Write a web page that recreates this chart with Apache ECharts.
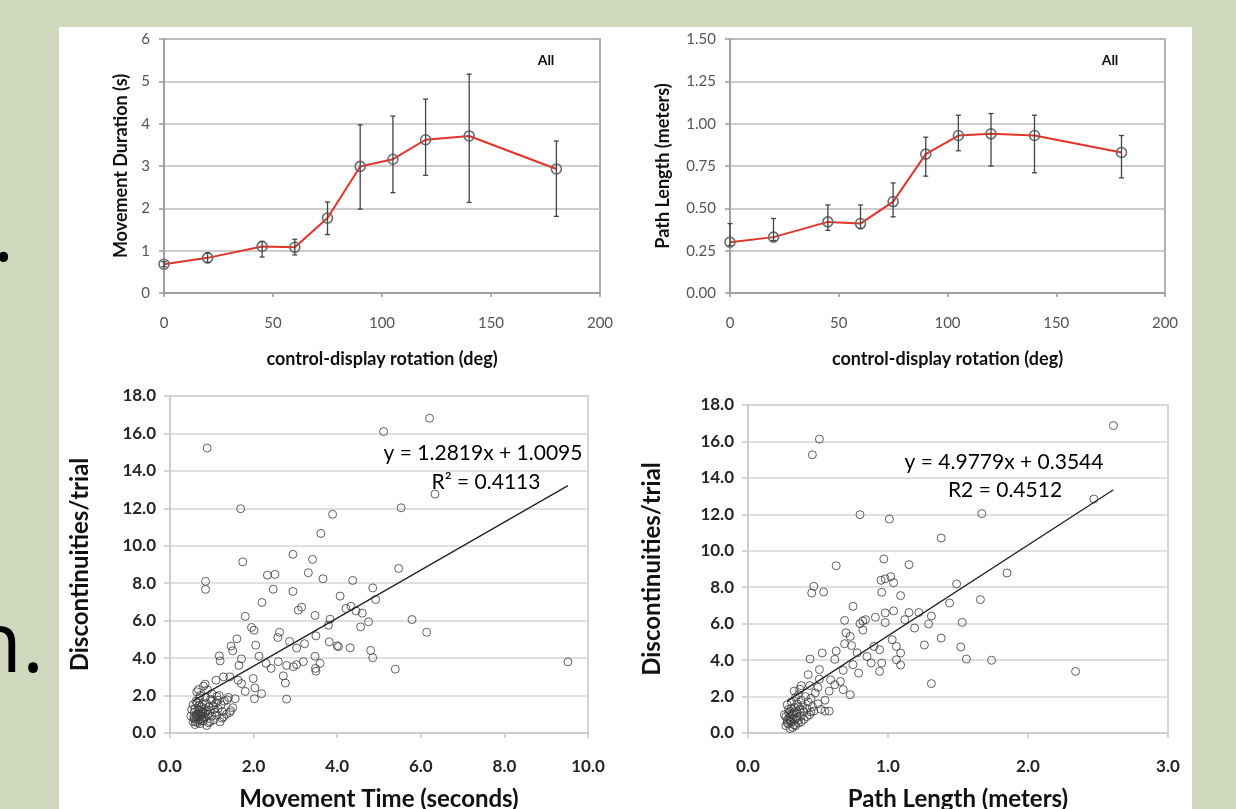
<!DOCTYPE html>
<html><head><meta charset="utf-8">
<script src="https://cdn.jsdelivr.net/npm/echarts@6/dist/echarts.min.js"></script>
<style>html,body{margin:0;padding:0;background:#cfd8bd;}#c{width:1236px;height:809px;}</style>
</head><body><div id="c"></div>
<script>
// ---------- data ----------
const rotations = [0, 20, 45, 60, 75, 90, 105, 120, 140, 180];
const durationMean = [0.68, 0.83, 1.10, 1.08, 1.77, 2.99, 3.16, 3.62, 3.71, 2.93];
const durationLow  = [0.62, 0.72, 0.85, 0.90, 1.38, 1.98, 2.37, 2.78, 2.14, 1.81];
const durationHigh = [0.74, 0.95, 1.22, 1.27, 2.15, 3.97, 4.18, 4.58, 5.17, 3.59];
const pathMean = [0.30, 0.33, 0.42, 0.41, 0.54, 0.82, 0.93, 0.94, 0.93, 0.83];
const pathLow  = [0.28, 0.31, 0.37, 0.38, 0.45, 0.69, 0.84, 0.75, 0.71, 0.68];
const pathHigh = [0.41, 0.44, 0.52, 0.52, 0.65, 0.92, 1.05, 1.06, 1.05, 0.93];

// Movement time (s) vs discontinuities/trial
const timeScatter = [
 [0.89,15.22],[1.69,11.98],[3.89,11.68],[3.61,10.66],[2.94,9.54],[3.41,9.27],[1.74,9.14],[2.33,8.43],[2.51,8.47],[3.31,8.56],
 [3.66,8.24],[4.37,8.15],[4.85,7.75],[0.85,8.10],[0.85,7.67],[2.47,7.68],[2.94,7.56],[4.07,7.31],[2.20,6.97],[3.15,6.72],
 [3.07,6.56],[3.47,6.28],[1.80,6.23],[4.21,6.65],[4.33,6.77],[4.45,6.52],[4.60,6.40],[4.75,5.94],[4.56,5.67],[4.92,7.13],
 [3.83,6.08],[3.79,5.76],[1.95,5.64],[2.01,5.49],[2.62,5.38],[2.58,5.10],[1.60,5.03],[1.46,4.64],[1.50,4.39],[2.05,4.69],
 [2.86,4.89],[3.03,4.54],[3.22,4.77],[3.49,5.19],[3.81,4.87],[4.00,4.66],[4.03,4.61],[4.31,4.55],[4.80,4.41],[4.85,4.02],
 [1.18,4.12],[1.20,3.85],[1.71,3.96],[1.65,3.61],[2.13,4.10],[2.30,3.72],[2.42,3.45],[2.59,3.81],[2.79,3.61],[2.95,3.54],
 [3.03,3.65],[3.19,3.81],[3.47,4.10],[3.48,3.45],[3.59,3.72],[3.49,3.30],[2.71,3.05],[2.76,2.67],[2.79,1.81],[1.99,2.91],
 [2.03,2.41],[2.19,2.10],[2.02,1.83],[1.80,2.22],[1.63,2.82],[1.71,2.64],[1.43,3.00],[1.28,3.00],[1.10,2.82],[0.84,2.61],
 [0.68,2.32],[1.56,1.83],[1.37,1.77],[1.12,1.95],[1.00,1.74],[1.43,1.10],[1.24,0.79],
 [6.21,16.81],[5.11,16.10],[6.34,12.76],[5.53,12.03],[5.47,8.79],[5.79,6.06],[6.14,5.38],[5.39,3.41],[9.52,3.80],
 [0.55,0.60],[0.60,0.45],[0.62,0.80],[0.65,1.00],[0.68,0.70],[0.70,1.20],[0.72,0.50],[0.74,0.90],[0.75,1.40],[0.78,1.10],
 [0.80,0.65],[0.82,1.30],[0.85,0.85],[0.87,1.60],[0.90,1.00],[0.92,0.55],[0.95,1.20],[0.97,1.80],[1.00,0.90],[1.02,1.45],
 [1.05,0.70],[1.08,1.10],[1.10,1.60],[1.12,0.95],[1.15,1.30],[1.18,2.00],[1.20,0.60],[1.22,1.50],[1.25,1.15],[1.30,1.70],
 [1.35,1.00],[1.40,1.90],[0.60,1.30],[0.65,1.60],[0.70,1.85],[0.58,1.10],[0.66,0.55],[0.76,0.75],[0.84,1.90],[0.88,0.40],
 [0.96,0.60],[1.00,2.10],[0.72,2.00],[0.64,2.20],[0.90,2.30],[0.80,2.50],[0.55,1.50],[1.45,1.20],[1.50,1.35],[1.28,0.85],
 [0.50,0.90],[0.52,1.25],[0.58,0.75],[0.62,1.70],[0.70,0.95],[0.78,1.55],[0.86,1.15],[0.93,1.40],[1.05,1.25],[1.15,1.75],
 [0.63,0.95],[0.67,1.25],[0.73,0.65],[0.77,1.00],[0.81,0.80],[0.69,1.45],[0.74,1.15],[0.83,1.05],[0.57,0.85],[0.61,0.60]
];
const timeFit = { slope: 1.2819, intercept: 1.0095, xFrom: 0.56, xTo: 9.52 };

// Path length (m) vs discontinuities/trial
const pathScatter = [
 [0.51,16.13],[0.46,15.27],[0.80,11.98],[1.01,11.74],[1.38,10.70],[0.63,9.18],[0.97,9.55],[1.15,9.24],[0.95,8.38],[0.98,8.46],
 [1.02,8.58],[1.04,8.25],[0.47,8.05],[0.455,7.68],[0.54,7.74],[0.955,7.72],[1.09,7.54],[0.75,6.95],[0.69,6.18],[0.84,6.22],
 [0.91,6.35],[0.98,6.59],[0.98,6.06],[1.04,6.70],[1.15,6.61],[1.12,6.22],[1.19,5.76],[1.22,6.61],[1.29,5.98],[1.31,6.42],
 [1.38,5.21],[1.26,4.83],[1.31,2.71],[1.44,7.13],[0.80,6.00],[0.82,6.15],[0.70,5.50],[0.73,5.30],[0.69,4.90],[0.74,4.80],
 [0.63,4.50],[0.62,4.04],[0.68,3.44],[0.75,3.75],[0.79,3.29],[0.85,4.20],[0.88,3.84],[0.90,4.75],[0.94,4.57],[0.955,3.84],
 [0.94,3.38],[1.06,4.75],[1.09,4.39],[1.06,4.02],[1.09,3.73],[1.03,5.12],[0.443,4.06],[0.53,4.39],[0.43,3.20],[0.51,3.48],
 [0.51,2.96],[0.38,2.60],[0.59,2.92],[0.62,2.65],[0.66,2.83],[0.73,2.10],[0.68,2.38],[0.58,1.20],[0.55,1.20],[0.82,5.65],
 [0.78,4.40],
 [2.61,16.87],[2.47,12.84],[1.67,12.04],[1.85,8.78],[1.49,8.18],[1.66,7.32],[1.53,6.07],[1.52,4.72],[1.56,4.06],[1.74,3.99],[2.34,3.38],
 [0.27,0.40],[0.28,0.70],[0.29,0.50],[0.30,0.90],[0.30,1.20],[0.31,0.60],[0.32,1.00],[0.32,0.30],[0.33,1.40],[0.34,0.80],
 [0.35,1.10],[0.35,1.60],[0.36,0.55],[0.37,1.30],[0.38,0.95],[0.38,1.80],[0.39,1.50],[0.40,1.15],[0.41,2.00],[0.42,1.35],
 [0.43,1.70],[0.44,1.00],[0.45,1.90],[0.46,1.45],[0.48,2.20],[0.50,1.60],[0.52,1.30],[0.27,0.90],[0.29,1.30],[0.31,1.70],
 [0.33,0.45],[0.28,1.55],[0.36,2.10],[0.40,0.75],[0.47,1.20],[0.34,1.95],[0.30,0.25],[0.26,1.00],[0.55,1.80],[0.58,2.30],
 [0.50,2.50],[0.44,2.60],[0.37,2.40],[0.33,2.30],[0.29,0.80],[0.31,1.05],[0.36,0.70],[0.42,0.90],[0.39,1.25],[0.45,1.15],
 [0.28,0.55],[0.30,0.65],[0.32,0.75],[0.33,1.15],[0.34,0.40],[0.35,0.85],[0.29,1.10],[0.31,1.35],[0.36,1.45],[0.38,0.60]
];
const pathFit = { slope: 4.9779, intercept: 0.3544, xFrom: 0.28, xTo: 2.61 };

// ---------- helpers ----------
const FONT = 'Lato';
function fitLine(f){ return [[f.xFrom, f.slope*f.xFrom+f.intercept],[f.xTo, f.slope*f.xTo+f.intercept]]; }
function errData(xs, lo, hi){ return xs.map((x,i)=>[x, lo[i], hi[i]]); }
function pairs(xs, ys){ return xs.map((x,i)=>[x, ys[i]]); }
function errRender(params, api){
  const x = api.value(0), lo = api.value(1), hi = api.value(2);
  const a = api.coord([x, hi]), b = api.coord([x, lo]);
  const w = 2.5, st = {stroke:'#444', lineWidth:1.3};
  return {type:'group', children:[
    {type:'line', shape:{x1:a[0],y1:a[1],x2:b[0],y2:b[1]}, style:st},
    {type:'line', shape:{x1:a[0]-w,y1:a[1],x2:a[0]+w,y2:a[1]}, style:st},
    {type:'line', shape:{x1:b[0]-w,y1:b[1],x2:b[0]+w,y2:b[1]}, style:st}
  ]};
}
function topX(idx, nameStr){
  return {type:'value', gridIndex:idx, min:0, max:200, interval:50,
    name:nameStr, nameLocation:'middle', nameGap:57,
    nameTextStyle:{fontFamily:FONT, fontWeight:'bold', fontSize:18, color:'#111'},
    axisLine:{show:true, lineStyle:{color:'#999', width:1.5}},
    axisTick:{show:true, length:4, lineStyle:{color:'#999', width:1.5}},
    axisLabel:{margin:23, fontFamily:FONT, fontSize:15, color:'#555'},
    splitLine:{show:false}};
}
function topY(idx, max, interval, fmt, nameStr, gap){
  return {type:'value', gridIndex:idx, min:0, max:max, interval:interval,
    name:nameStr, nameLocation:'middle', nameGap:gap,
    nameTextStyle:{fontFamily:FONT, fontWeight:'bold', fontSize:18, color:'#111'},
    axisLine:{show:true, lineStyle:{color:'#999', width:1.5}},
    axisTick:{show:true, length:5, lineStyle:{color:'#999', width:1.5}},
    axisLabel:{margin:14, fontFamily:FONT, fontSize:15, color:'#555', formatter:fmt},
    splitLine:{show:true, lineStyle:{color:'#bdbdbd', width:1.5}}};
}
function scX(idx, max, interval, nameStr, gap){
  return {type:'value', gridIndex:idx, min:0, max:max, interval:interval,
    name:nameStr, nameLocation:'middle', nameGap:gap,
    nameTextStyle:{fontFamily:FONT, fontWeight:'bold', fontSize:24, color:'#111'},
    axisLine:{show:true, lineStyle:{color:'#c8c8c8', width:1.5}},
    axisTick:{show:true, length:5, lineStyle:{color:'#c8c8c8', width:1.5}},
    axisLabel:{margin:25, fontFamily:FONT, fontWeight:'bold', fontSize:17, color:'#262626', formatter:v=>v.toFixed(1)},
    splitLine:{show:false}};
}
function scY(idx, nameStr, gap){
  return {type:'value', gridIndex:idx, min:0, max:18, interval:2,
    name:nameStr, nameLocation:'middle', nameGap:gap,
    nameTextStyle:{fontFamily:FONT, fontWeight:'bold', fontSize:24, color:'#111'},
    axisLine:{show:true, lineStyle:{color:'#c8c8c8', width:1.5}},
    axisTick:{show:true, length:6, lineStyle:{color:'#c8c8c8', width:1.5}},
    axisLabel:{margin:14, fontFamily:FONT, fontWeight:'bold', fontSize:17, color:'#262626', formatter:v=>v.toFixed(1)},
    splitLine:{show:true, lineStyle:{color:'#d6d6d6', width:1.5}}};
}
const scatterStyle = {color:'rgba(0,0,0,0)', borderColor:'#3a3a3a', borderWidth:1};
function lineSeries(idx, data){
  return {type:'line', xAxisIndex:idx, yAxisIndex:idx, data:data, z:3,
    lineStyle:{color:'#e3342a', width:2}, symbol:'circle', symbolSize:10,
    itemStyle:{color:'rgba(255,255,255,0)', borderColor:'#6b6b6b', borderWidth:1.6}};
}
function gridBox(l, t, w, h, border){
  return {left:l, top:t, width:w, height:h, show:true, borderColor:border, borderWidth:1.5,
    backgroundColor:'transparent', containLabel:false, outerBoundsMode:'none'};
}

const chart = echarts.init(document.getElementById('c'), null, {renderer:'canvas'});
chart.setOption({
  backgroundColor:'#cfd8bd',
  animation:false,
  graphic:[
    {type:'rect', shape:{x:59, y:27, width:1133, height:790}, style:{fill:'#ffffff'}, z:-10},
    {type:'text', x:14, y:278, style:{text:'.', font:'80px "Open Sans"', fill:'#000', align:'right', verticalAlign:'bottom'}},
    {type:'text', x:44, y:690, style:{text:'n.', font:'84px "Open Sans"', fill:'#000', align:'right', verticalAlign:'bottom'}},
    {type:'text', x:546, y:60, style:{text:'All', font:'bold 14px Lato', fill:'#111', align:'center', verticalAlign:'middle'}},
    {type:'text', x:1110, y:60, style:{text:'All', font:'bold 14px Lato', fill:'#111', align:'center', verticalAlign:'middle'}},
    {type:'text', x:483, y:453, style:{text:'y = 1.2819x + 1.0095', font:'21px Lato', fill:'#000', align:'center', verticalAlign:'middle'}},
    {type:'text', x:486, y:482, style:{text:'R² = 0.4113', font:'21px Lato', fill:'#000', align:'center', verticalAlign:'middle'}},
    {type:'text', x:1004, y:462, style:{text:'y = 4.9779x + 0.3544', font:'21px Lato', fill:'#000', align:'center', verticalAlign:'middle'}},
    {type:'text', x:1005, y:490, style:{text:'R2 = 0.4512', font:'21px Lato', fill:'#000', align:'center', verticalAlign:'middle'}}
  ],
  grid:[
    gridBox(164, 39, 436, 254, '#999'),
    gridBox(730, 39, 435, 254, '#999'),
    gridBox(170, 396, 418, 337, '#c8c8c8'),
    gridBox(748, 405, 420, 328, '#c8c8c8')
  ],
  xAxis:[
    topX(0, 'control-display rotation (deg)'),
    topX(1, 'control-display rotation (deg)'),
    scX(2, 10, 2, 'Movement Time (seconds)', 54),
    scX(3, 3, 1, 'Path Length (meters)', 54)
  ],
  yAxis:[
    topY(0, 6, 1, v=>String(v), 'Movement Duration (s)', 34),
    topY(1, 1.5, 0.25, v=>v.toFixed(2), 'Path Length (meters)', 58),
    scY(2, 'Discontinuities/trial', 78),
    scY(3, 'Discontinuities/trial', 84)
  ],
  series:[
    {type:'custom', xAxisIndex:0, yAxisIndex:0, renderItem:errRender, data:errData(rotations, durationLow, durationHigh), encode:{x:0, y:[1,2]}, z:4},
    lineSeries(0, pairs(rotations, durationMean)),
    {type:'custom', xAxisIndex:1, yAxisIndex:1, renderItem:errRender, data:errData(rotations, pathLow, pathHigh), encode:{x:0, y:[1,2]}, z:4},
    lineSeries(1, pairs(rotations, pathMean)),
    {type:'scatter', xAxisIndex:2, yAxisIndex:2, data:timeScatter, symbol:'circle', symbolSize:8, itemStyle:scatterStyle},
    {type:'line', xAxisIndex:2, yAxisIndex:2, data:fitLine(timeFit), symbol:'none', lineStyle:{color:'#222', width:1.3}},
    {type:'scatter', xAxisIndex:3, yAxisIndex:3, data:pathScatter, symbol:'circle', symbolSize:8, itemStyle:scatterStyle},
    {type:'line', xAxisIndex:3, yAxisIndex:3, data:fitLine(pathFit), symbol:'none', lineStyle:{color:'#222', width:1.3}}
  ]
});
</script></body></html>
